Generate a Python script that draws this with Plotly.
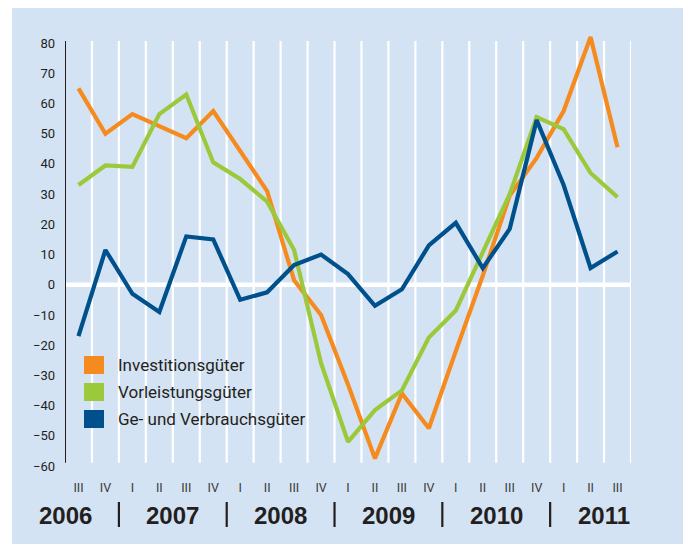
import plotly.graph_objects as go

quarters = ["III", "IV", "I", "II", "III", "IV", "I", "II", "III", "IV", "I", "II",
            "III", "IV", "I", "II", "III", "IV", "I", "II", "III"]
years = ["2006", "2006", "2007", "2007", "2007", "2007", "2008", "2008", "2008", "2008",
         "2009", "2009", "2009", "2009", "2010", "2010", "2010", "2010", "2011", "2011", "2011"]

investition = [65, 50, 56.5, 52.5, 48.5, 57.5, 44, 31, 1.5, -10, -33, -57.5,
               -36, -47.5, -22, 3, 29.5, 42, 57.5, 82, 45.5]
vorleistung = [33, 39.5, 39, 56.5, 63, 40.5, 35, 27.5, 11.5, -26, -52, -41.5,
               -35, -17.5, -8.5, 10.5, 30, 55.5, 51.5, 37, 29]
verbrauch = [-17, 11.5, -3, -9, 16, 15, -5, -2.5, 6.5, 10, 3.5, -7,
             -1.5, 13, 20.5, 5.5, 18.5, 54.5, 33, 5.5, 11]

series_names = ["Investitionsgüter", "Vorleistungsgüter", "Ge- und Verbrauchsgüter"]
series_colors = ["#f58b1f", "#9cc93b", "#00508c"]
series_values = [investition, vorleistung, verbrauch]

yticks = list(range(-60, 81, 10))

# page places the figure 8px from the window's top-left corner
OFF = 8
W, H = 691 - OFF, 544 - OFF
L, R, T, B = 65 - OFF, 60, 28 - OFF, 72
PW, PH = W - L - R, H - T - B


def px(xp):
    return (xp - OFF - L) / PW


def py(yp):
    return (H - B - (yp - OFF)) / PH


x = list(range(len(quarters)))
fig = go.Figure()
for name, col, vals in zip(series_names, series_colors, series_values):
    fig.add_trace(go.Scatter(x=x, y=vals, mode="lines", name=name,
                             line=dict(color=col, width=4.2), showlegend=False))

shapes = []
# background panel
shapes.append(dict(type="rect", xref="paper", yref="paper", x0=px(12), x1=px(684),
                   y0=py(552), y1=py(8), fillcolor="#d4e3f3", line=dict(width=0), layer="below"))
ybot, ytop = -58.9, 80.7
# vertical white gridlines at category boundaries
for i in x:
    shapes.append(dict(type="line", xref="x", yref="y", x0=i + 0.5, x1=i + 0.5,
                       y0=ybot, y1=ytop, line=dict(color="white", width=2.2), layer="below"))
# zero line
shapes.append(dict(type="line", xref="x", yref="y", x0=-0.5, x1=x[-1] + 0.5, y0=0, y1=0,
                   line=dict(color="white", width=4.5), layer="below"))
# y axis line
shapes.append(dict(type="line", xref="x", yref="y", x0=-0.5, x1=-0.5, y0=ybot, y1=ytop,
                   line=dict(color="#231f20", width=2), layer="above"))

annotations = []
year_list = []
for yv in years:
    if yv not in year_list:
        year_list.append(yv)
qnum = {"I": 0, "II": 1, "III": 2, "IV": 3}
for yv in year_list:
    idx = [i for i, yy in enumerate(years) if yy == yv]
    start = idx[0] - qnum[quarters[idx[0]]]
    center = start + 1.5
    annotations.append(dict(x=center, y=py(515), xref="x", yref="paper", text=yv,
                            showarrow=False,
                            font=dict(size=24, color="#231f20", family="Liberation Sans, Arial",
                                      weight="bold"),
                            xanchor="center", yanchor="middle"))
    if yv != year_list[0]:
        shapes.append(dict(type="line", xref="x", yref="paper", x0=start - 0.5, x1=start - 0.5,
                           y0=py(502), y1=py(527), line=dict(color="#231f20", width=2.2)))

# manual legend
leg_y = [365, 392, 419]
for name, col, ly in zip(series_names, series_colors, leg_y):
    shapes.append(dict(type="rect", xref="paper", yref="paper", x0=px(84), x1=px(104),
                       y0=py(ly + 9), y1=py(ly - 9), fillcolor=col, line=dict(width=0)))
    annotations.append(dict(x=px(116), y=py(ly), xref="paper", yref="paper", text=name,
                            showarrow=False, xanchor="left", yanchor="middle",
                            font=dict(size=17, color="#231f20",
                                      family="Roboto, Arial")))

fig.update_layout(
    width=W, height=H,
    margin=dict(l=L, r=R, t=T, b=B),
    paper_bgcolor="white",
    plot_bgcolor="rgba(0,0,0,0)",
    shapes=shapes,
    annotations=annotations,
    showlegend=False,
    xaxis=dict(range=[-0.5, x[-1] + 0.5], tickvals=x, ticktext=quarters, showgrid=False,
               zeroline=False, showline=False, ticks="", ticklabelstandoff=6,
               tickfont=dict(size=12.5, color="#3a3a3a", family="Roboto, Arial"),
               fixedrange=True),
    yaxis=dict(range=[-62, 85], tickvals=yticks, showgrid=False, zeroline=False,
               showline=False, ticks="", ticklabelstandoff=9,
               tickfont=dict(size=13, color="#231f20", family="Roboto, Arial"),
               fixedrange=True),
)

fig.write_html("out.html")
